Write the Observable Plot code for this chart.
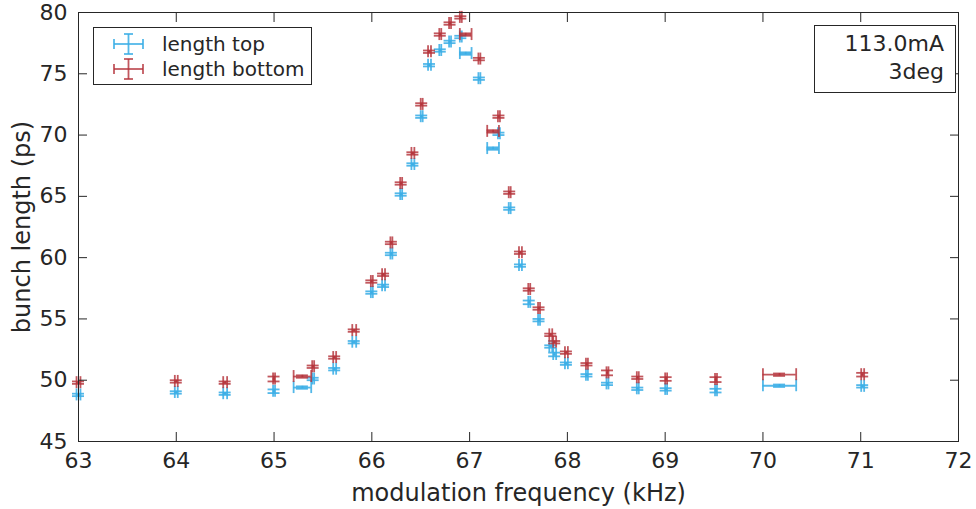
<!DOCTYPE html>
<html>
<head>
<meta charset="utf-8">
<script src="https://cdn.jsdelivr.net/npm/d3@7"></script>
<script src="https://cdn.jsdelivr.net/npm/@observablehq/plot@0.6"></script>
<style>
  html, body { margin: 0; padding: 0; background: white; }
  #wrap { position: relative; width: 976px; height: 509px; font-family: "DejaVu Sans", sans-serif; color: #262626; }
  .box { position: absolute; background: white; border: 1px solid #262626; box-sizing: border-box; }
  #legend { left: 93px; top: 27px; width: 219px; height: 58px; font-size: 20px; }
  #legend .row { position: absolute; left: 0; height: 25px; display: flex; align-items: center; }
  #legend svg { margin-left: 20px; margin-right: 19px; }
  #note { left: 814px; top: 25px; width: 142px; height: 68px; font-size: 22px; text-align: right; padding: 4px 11px 0 0; line-height: 28px; }
</style>
</head>
<body>
<div id="wrap"></div>
<script>
// ---- data ----
const freq = [63.0, 64.0, 64.5, 65.0, 65.29, 65.4, 65.62, 65.82, 66.0, 66.12, 66.2, 66.3, 66.42, 66.51, 66.59, 66.70, 66.80, 66.91, 66.96, 67.10, 67.24, 67.30, 67.41, 67.52, 67.61, 67.71, 67.83, 67.87, 67.99, 68.2, 68.41, 68.72, 69.01, 69.52, 70.17, 71.02];
const lengthTop = [48.8, 49.0, 48.9, 49.1, 49.4, 50.1, 50.9, 53.1, 57.15, 57.7, 60.3, 65.15, 67.6, 71.5, 75.7, 76.9, 77.6, 78.0, 76.65, 74.6, 68.9, 70.1, 64.0, 59.35, 56.35, 54.9, 52.75, 52.1, 51.35, 50.4, 49.7, 49.3, 49.25, 49.15, 49.55, 49.5];
const lengthBottom = [49.8, 49.9, 49.8, 50.1, 50.3, 51.1, 51.85, 54.05, 58.05, 58.6, 61.2, 66.05, 68.5, 72.5, 76.8, 78.2, 79.1, 79.6, 78.2, 76.2, 70.3, 71.5, 65.3, 60.4, 57.4, 55.85, 53.7, 53.1, 52.25, 51.3, 50.6, 50.2, 50.1, 50.05, 50.45, 50.45];
const freqErr = [0.02, 0.015, 0.02, 0.01, 0.09, 0.01, 0.015, 0.02, 0.01, 0.015, 0.01, 0.01, 0.015, 0.01, 0.015, 0.01, 0.01, 0.01, 0.06, 0.01, 0.06, 0.01, 0.01, 0.015, 0.01, 0.01, 0.015, 0.015, 0.015, 0.01, 0.01, 0.01, 0.01, 0.01, 0.17, 0.015];
const errTop = [0.1, 0.1, 0.1, 0.15, 0.1, 0.1, 0.1, 0.1, 0.1, 0.1, 0.1, 0.1, 0.1, 0.1, 0.1, 0.1, 0.1, 0.1, 0.1, 0.1, 0.1, 0.1, 0.1, 0.1, 0.15, 0.1, 0.1, 0.15, 0.1, 0.1, 0.1, 0.1, 0.1, 0.15, 0.1, 0.1];
const errBottom = [0.1, 0.1, 0.1, 0.2, 0.1, 0.1, 0.1, 0.1, 0.1, 0.1, 0.1, 0.1, 0.1, 0.1, 0.1, 0.1, 0.1, 0.1, 0.1, 0.1, 0.1, 0.1, 0.1, 0.1, 0.1, 0.1, 0.1, 0.1, 0.1, 0.1, 0.2, 0.1, 0.15, 0.2, 0.1, 0.15];
const xTicks = [63, 64, 65, 66, 67, 68, 69, 70, 71, 72];
const yTicks = [45, 50, 55, 60, 65, 70, 75, 80];
const seriesNames = ["length top", "length bottom"];
const seriesColors = ["#3BAEE6", "#B5333A"];
const seriesOpacity = [0.88, 0.82];
const annotation = ["113.0mA", "3deg"];

// ---- table ----
const rows = [];
freq.forEach((f, i) => rows.push({series: 0, f, L: lengthTop[i], ex: freqErr[i], ey: errTop[i]}));
freq.forEach((f, i) => rows.push({series: 1, f, L: lengthBottom[i], ex: freqErr[i], ey: errBottom[i]}));

const CAP = -6; // cap half-length in px (negative inset extends the rule)

function errMarks(data, color, op) {
  const s = {stroke: color, strokeWidth: 1.8, strokeOpacity: op};
  return [
    Plot.ruleY(data, {y: "L", x1: d => d.f - d.ex, x2: d => d.f + d.ex, ...s}),
    Plot.ruleX(data, {x: "f", y1: d => d.L - d.ey, y2: d => d.L + d.ey, ...s}),
    Plot.ruleX(data, {x: d => d.f - d.ex, y1: "L", y2: "L", insetTop: CAP, insetBottom: CAP, ...s}),
    Plot.ruleX(data, {x: d => d.f + d.ex, y1: "L", y2: "L", insetTop: CAP, insetBottom: CAP, ...s}),
    Plot.ruleY(data, {y: d => d.L - d.ey, x1: "f", x2: "f", insetLeft: CAP, insetRight: CAP, ...s}),
    Plot.ruleY(data, {y: d => d.L + d.ey, x1: "f", x2: "f", insetLeft: CAP, insetRight: CAP, ...s})
  ];
}

const chart = Plot.plot({
  width: 976,
  height: 509,
  marginLeft: 78,
  marginRight: 18,
  marginTop: 12,
  marginBottom: 68,
  x: {domain: [63, 72]},
  y: {domain: [45, 80]},
  style: {fontFamily: "DejaVu Sans", color: "#262626", background: "white", overflow: "visible"},
  marks: [
    ...errMarks(rows.filter(d => d.series === 0), seriesColors[0], seriesOpacity[0]),
    ...errMarks(rows.filter(d => d.series === 1), seriesColors[1], seriesOpacity[1]),
    Plot.frame({stroke: "#262626", strokeWidth: 1}),
    Plot.axisX({ticks: xTicks, anchor: "bottom", tickSize: -9, tickPadding: 20, fontSize: 22, label: null, stroke: "#262626"}),
    Plot.axisX({ticks: xTicks, anchor: "top", tickSize: -9, tickFormat: () => "", label: null, stroke: "#262626"}),
    Plot.axisY({ticks: yTicks, anchor: "left", tickSize: -9, tickPadding: 20, fontSize: 22, label: null, stroke: "#262626"}),
    Plot.axisY({ticks: yTicks, anchor: "right", tickSize: -9, tickFormat: () => "", label: null, stroke: "#262626"}),
    Plot.text(["modulation frequency (kHz)"], {frameAnchor: "bottom", lineAnchor: "middle", textAnchor: "middle", dy: 52, fontSize: 24, fill: "#262626"}),
    Plot.text(["bunch length (ps)"], {frameAnchor: "left", lineAnchor: "middle", textAnchor: "middle", dx: -56, rotate: -90, fontSize: 24, fill: "#262626"})
  ]
});

const wrap = document.getElementById("wrap");
wrap.appendChild(chart);

// legend
const legend = document.createElement("div");
legend.className = "box";
legend.id = "legend";
seriesNames.forEach((name, i) => {
  const row = document.createElement("div");
  row.className = "row";
  row.style.top = (3 + i * 25) + "px";
  const c = seriesColors[i];
  row.innerHTML = `<svg width="29" height="20" style="overflow:visible">
    <g stroke="${c}" stroke-width="1.8" stroke-opacity="${seriesOpacity[i]}" fill="none">
      <line x1="0" y1="10" x2="29" y2="10"/><line x1="14.5" y1="0" x2="14.5" y2="20"/>
      <line x1="0" y1="5" x2="0" y2="15"/><line x1="29" y1="5" x2="29" y2="15"/>
      <line x1="10" y1="0" x2="19" y2="0"/><line x1="10" y1="20" x2="19" y2="20"/>
    </g></svg><span>${name}</span>`;
  legend.appendChild(row);
});
wrap.appendChild(legend);

// annotation
const note = document.createElement("div");
note.className = "box";
note.id = "note";
note.innerHTML = annotation.join("<br>");
wrap.appendChild(note);
</script>
</body>
</html>
